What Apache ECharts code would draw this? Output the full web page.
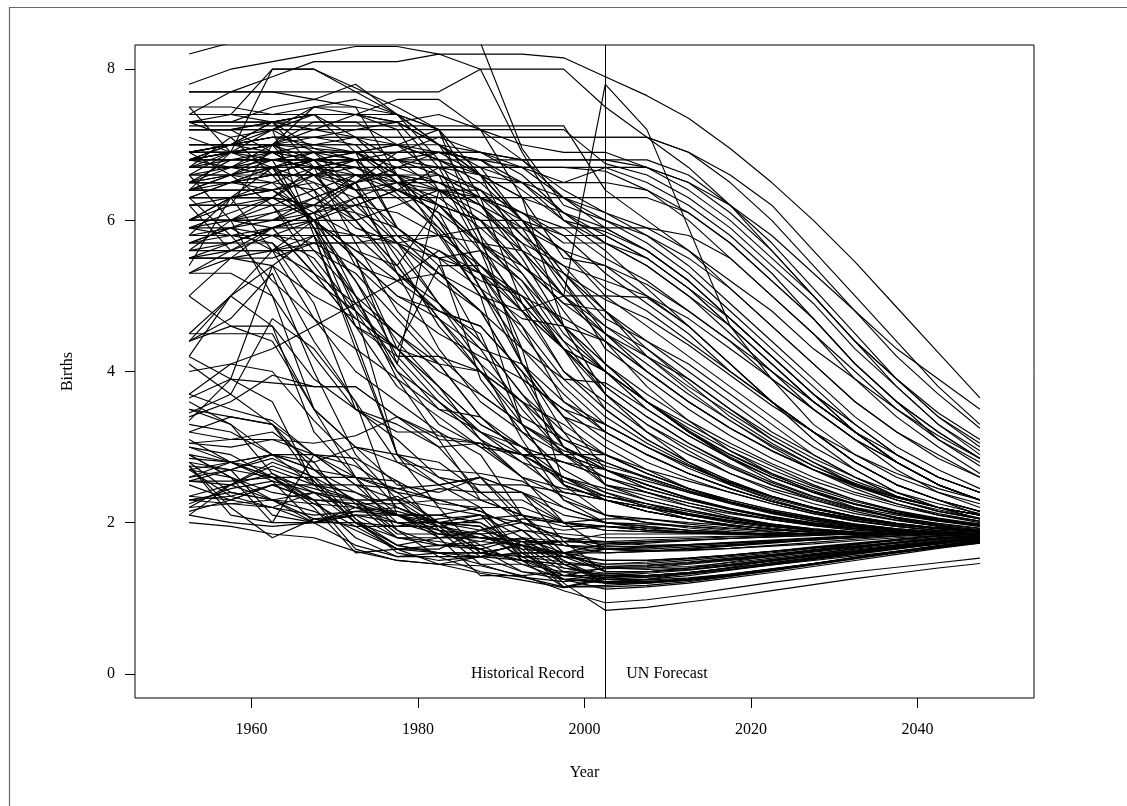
<!DOCTYPE html>
<html><head><meta charset="utf-8">
<script src="https://cdn.jsdelivr.net/npm/echarts@6/dist/echarts.min.js"></script>
<style>html,body{margin:0;padding:0;background:#fff}#c{width:1127px;height:806px}</style>
</head><body><div id="c"></div>
<script>
const years = [1952.5,1957.5,1962.5,1967.5,1972.5,1977.5,1982.5,1987.5,1992.5,1997.5,2002.5,2007.5,2012.5,2017.5,2022.5,2027.5,2032.5,2037.5,2042.5,2047.5];
const xTicks = [1960,1980,2000,2020,2040];
const yTicks = [0,2,4,6,8];
const splitYear = 2002.5;
const leftLabel = 'Historical Record';
const rightLabel = 'UN Forecast';

const highFertility = [
[7.7,7.7,7.9,8.1,8.1,8.1,8.2,8.2,8.2,8.15,7.9,7.65,7.35,6.95,6.5,6.0,5.45,4.85,4.25,3.65],
[8.2,8.35,8.5,8.6,8.6,8.6,8.6,8.35,6.95,6.2,6.0,5.7,5.3,4.8,4.3,3.8,3.3,2.9,2.6,2.4],
[7.8,8.0,8.1,8.2,8.3,8.3,8.2,8.0,6.9,6.0,5.7,5.4,5.0,4.6,4.1,3.6,3.2,2.8,2.5,2.3],
[7.5,6.9,8.0,8.0,7.75,7.5,7.2,6.6,5.6,5.0,5.0,4.98,4.6,4.1,3.6,3.2,2.8,2.5,2.3,2.1],
[6.9,7.0,7.1,7.1,7.1,7.1,7.1,7.1,7.1,7.1,7.1,7.1,6.9,6.6,6.2,5.6,5.0,4.4,3.8,3.3],
[6.8,6.9,7.0,7.1,7.2,7.3,7.4,7.2,7.0,6.9,6.9,6.7,6.4,6.0,5.5,5.0,4.4,3.9,3.4,3.0],
[6.4,6.5,6.6,6.8,6.9,7.0,7.2,7.2,7.2,7.2,6.75,6.6,6.3,5.9,5.4,4.9,4.3,3.8,3.3,2.95],
[6.8,6.8,6.8,6.8,6.8,6.8,6.8,6.8,6.8,6.8,6.8,6.7,6.5,6.1,5.6,5.0,4.4,3.8,3.3,2.9],
[7.25,7.25,7.25,7.25,7.25,7.25,7.25,7.25,7.25,7.25,6.4,6.0,5.6,5.1,4.6,4.1,3.6,3.2,2.9,2.6],
[5.6,5.6,5.9,6.1,6.5,6.9,7.1,7.1,7.1,7.1,7.1,7.1,6.9,6.5,6.0,5.4,4.8,4.2,3.7,3.25],
[6.0,6.0,6.0,6.3,6.5,6.7,6.7,6.7,6.7,6.7,6.7,6.7,6.5,6.2,5.8,5.3,4.8,4.3,3.9,3.5],
[5.8,5.9,6.0,6.2,6.5,6.7,6.9,6.8,6.7,6.7,6.65,6.4,6.0,5.5,5.0,4.5,4.0,3.5,3.1,2.75],
[6.3,6.5,6.7,6.8,6.7,6.7,6.7,6.7,6.7,6.5,6.7,6.5,6.2,5.8,5.3,4.7,4.1,3.6,3.1,2.8],
[5.9,6.1,6.3,6.6,6.8,6.9,6.9,6.9,6.8,6.8,6.8,6.8,6.6,6.2,5.7,5.1,4.5,3.9,3.4,3.05],
[5.5,5.7,5.9,6.1,6.3,6.5,6.5,6.5,6.5,6.5,6.5,6.4,6.1,5.7,5.2,4.7,4.1,3.6,3.2,2.85],
[7.2,7.2,6.9,6.9,6.8,6.8,6.9,6.9,6.8,6.3,5.9,5.6,5.2,4.7,4.2,3.7,3.2,2.8,2.5,2.3],
[6.8,6.9,7.0,7.2,7.4,7.6,7.6,7.2,6.8,6.4,6.1,5.8,5.4,4.9,4.4,3.9,3.4,3.0,2.7,2.45],
[6.3,6.5,6.6,6.6,6.6,6.5,6.4,6.3,6.1,5.9,5.5,5.2,4.8,4.4,3.9,3.5,3.1,2.8,2.5,2.3],
[6.5,6.6,6.8,6.9,6.9,6.9,6.9,6.8,6.4,6.0,5.85,5.6,5.2,4.7,4.2,3.7,3.2,2.8,2.5,2.3],
[6.7,6.8,6.8,6.8,6.8,6.8,6.7,6.4,6.1,5.7,5.7,5.5,5.1,4.6,4.1,3.6,3.2,2.8,2.5,2.3],
[6.7,6.9,7.2,7.4,7.4,7.3,7.0,6.6,6.3,6.1,5.7,5.4,5.0,4.5,4.0,3.5,3.1,2.7,2.4,2.2],
[6.8,6.9,7.0,7.0,7.1,7.1,7.1,6.9,6.6,6.1,5.9,5.6,5.2,4.7,4.2,3.7,3.3,2.9,2.6,2.4],
[6.9,6.9,6.9,6.9,6.9,6.9,6.9,6.8,6.5,6.1,5.8,5.5,5.1,4.7,4.2,3.7,3.3,2.9,2.6,2.4],
[5.7,5.7,5.9,6.0,6.3,6.3,6.3,6.3,6.3,6.3,6.3,6.3,6.1,5.7,5.2,4.7,4.1,3.6,3.2,2.85],
[6.5,6.5,6.6,6.8,6.8,6.4,6.2,6.0,6.0,5.8,5.8,5.5,5.1,4.6,4.1,3.6,3.2,2.8,2.5,2.3],
[5.7,5.9,6.1,6.3,6.5,6.6,6.5,6.3,6.0,5.3,4.7,4.4,4.1,3.7,3.3,2.9,2.6,2.35,2.2,2.05],
[5.5,5.5,5.5,5.7,5.7,5.7,5.8,5.9,5.9,5.9,5.9,5.9,5.8,5.5,5.0,4.5,3.9,3.4,3.0,2.65],
[7.4,7.4,8.0,8.0,7.7,7.4,7.0,6.7,6.5,6.0,5.6,5.1,4.6,4.1,3.6,3.1,2.7,2.4,2.2,2.05],
[7.2,7.2,7.2,7.2,7.2,7.2,7.2,7.2,6.3,4.6,3.7,3.2,2.8,2.5,2.3,2.15,2.05,1.98,1.93,1.9],
[7.2,7.2,7.3,7.3,7.3,7.3,7.0,6.2,5.5,4.6,4.1,3.6,3.2,2.85,2.55,2.35,2.2,2.1,2.02,1.97],
[6.7,6.7,6.7,6.7,6.7,6.4,6.2,6.0,5.4,4.9,4.8,4.4,4.0,3.6,3.2,2.9,2.6,2.35,2.2,2.1],
[6.2,6.2,6.2,6.2,6.2,6.4,6.7,6.7,6.0,5.3,4.8,4.2,3.75,3.35,3.0,2.7,2.45,2.25,2.1,2.0],
[5.7,5.8,5.8,6.0,6.2,6.4,6.4,6.4,5.9,5.1,4.6,4.3,3.9,3.5,3.1,2.8,2.5,2.3,2.15,2.05],
[6.6,6.6,6.6,6.6,6.6,6.6,6.6,6.4,5.8,5.2,4.3,3.9,3.5,3.15,2.85,2.6,2.4,2.25,2.12,2.02],
[6.4,6.6,6.9,7.0,7.0,7.0,6.9,6.6,6.0,5.6,5.0,4.6,4.2,3.8,3.4,3.0,2.7,2.4,2.2,2.1],
[6.5,6.7,7.0,7.3,7.3,7.0,6.6,6.3,6.1,5.8,5.3,4.9,4.5,4.0,3.6,3.2,2.8,2.5,2.3,2.15],
[6.8,7.0,7.3,7.4,7.4,7.4,7.0,6.6,6.0,5.6,5.1,4.8,4.4,4.0,3.6,3.2,2.8,2.5,2.3,2.15],
[6.9,7.0,7.1,7.1,7.1,7.0,6.8,6.6,6.3,5.5,5.4,5.0,4.6,4.1,3.6,3.2,2.8,2.5,2.3,2.15],
[6.4,6.9,7.0,6.95,6.9,6.6,6.4,6.0,5.3,4.6,4.4,4.0,3.6,3.25,2.95,2.7,2.5,2.33,2.2,2.1],
[6.3,6.3,6.3,6.0,5.6,5.4,6.2,5.7,5.2,4.4,4.0,3.6,3.3,3.0,2.75,2.5,2.3,2.15,2.03,1.95],
[7.3,7.3,7.3,7.2,7.1,6.8,6.4,6.1,5.7,5.4,4.8,4.3,3.85,3.4,3.05,2.75,2.5,2.3,2.15,2.05],
[6.0,6.0,6.0,6.0,6.0,6.2,6.4,6.2,5.6,5.0,4.4,3.8,3.35,2.95,2.65,2.4,2.2,2.05,1.95,1.88],
[7.1,6.9,6.9,6.6,6.4,6.4,6.1,5.7,5.4,5.0,4.6,4.2,3.8,3.45,3.1,2.8,2.55,2.35,2.2,2.1],
[6.8,7.0,7.3,7.4,7.4,7.3,6.7,5.7,4.8,4.0,3.6,3.2,2.9,2.65,2.45,2.3,2.17,2.06,1.97,1.9],
[6.7,6.7,6.9,6.9,6.9,6.5,6.2,5.7,5.3,4.5,4.0,3.6,3.2,2.9,2.65,2.45,2.28,2.15,2.05,1.97],
[6.4,6.4,6.4,6.0,5.5,4.3,5.4,5.4,4.8,5.0,7.8,7.2,5.9,4.6,3.9,3.3,2.9,2.6,2.4,2.25],
[7.7,7.7,7.7,7.7,7.7,7.7,7.7,8.0,8.0,8.0,7.5,7.1,6.7,6.2,5.6,5.0,4.4,3.9,3.45,3.1],
[6.6,6.6,6.7,6.8,6.9,7.0,7.0,6.9,6.7,6.3,6.0,5.8,5.5,5.1,4.6,4.1,3.6,3.2,2.85,2.6],
[6.2,6.3,6.5,6.7,6.8,6.8,6.6,6.3,5.8,5.4,5.2,5.0,4.7,4.3,3.9,3.5,3.1,2.8,2.5,2.3],
[5.9,6.0,6.2,6.4,6.6,6.6,6.5,6.2,5.7,5.0,4.5,4.2,3.9,3.5,3.15,2.85,2.6,2.4,2.25,2.12],
[6.9,7.0,7.1,7.0,6.9,6.7,6.5,6.2,5.9,5.6,5.4,5.15,4.8,4.4,4.0,3.6,3.2,2.9,2.6,2.4],
[7.0,7.0,7.0,7.0,7.0,7.0,6.8,6.5,6.0,5.2,4.5,4.0,3.6,3.25,2.95,2.7,2.5,2.33,2.2,2.1],
[6.3,6.3,6.4,6.6,6.7,6.7,6.7,6.6,6.5,6.3,6.1,5.9,5.6,5.2,4.8,4.3,3.9,3.5,3.15,2.85]
];

const lateDecline = [
[5.9,5.9,5.8,5.7,5.4,4.9,4.5,4.2,3.9,3.5,3.1,2.8,2.58,2.4,2.25,2.12,2.02,1.95,1.9,1.87],
[6.7,6.7,6.7,6.9,6.9,6.6,6.0,5.1,4.1,3.4,3.2,2.9,2.65,2.45,2.28,2.15,2.05,1.97,1.92,1.88],
[6.6,6.9,7.0,6.4,5.9,5.7,5.3,4.8,3.9,3.5,3.3,3.0,2.75,2.53,2.35,2.2,2.08,1.98,1.92,1.88],
[7.3,7.3,7.5,7.6,7.5,7.4,7.2,6.3,4.9,4.0,3.5,3.1,2.8,2.55,2.35,2.2,2.07,1.98,1.92,1.88],
[7.4,7.7,7.7,7.6,7.8,7.4,6.8,5.8,5.1,4.3,3.5,3.1,2.8,2.55,2.35,2.2,2.08,1.99,1.93,1.89],
[6.9,7.0,7.2,7.5,7.6,7.4,7.2,5.8,4.1,3.4,3.0,2.7,2.45,2.27,2.13,2.02,1.95,1.9,1.87,1.85],
[7.3,7.4,7.4,7.5,7.4,7.2,6.4,5.3,4.1,3.2,2.5,2.35,2.22,2.12,2.04,1.97,1.92,1.88,1.86,1.85],
[7.2,7.2,7.2,6.9,6.4,5.9,5.4,4.4,3.7,3.0,2.75,2.6,2.42,2.27,2.15,2.05,1.98,1.92,1.88,1.86],
[7.0,7.0,7.0,6.7,6.4,6.5,6.6,5.6,4.3,2.5,2.1,2.0,1.93,1.88,1.85,1.85,1.85,1.85,1.85,1.85],
[5.8,5.8,5.9,5.9,5.8,5.8,5.6,5.3,5.0,4.4,3.7,3.3,2.95,2.65,2.42,2.25,2.12,2.03,1.96,1.91],
[6.8,6.7,6.6,6.6,6.5,5.8,5.3,5.0,4.8,4.3,4.0,3.5,3.15,2.85,2.6,2.4,2.25,2.13,2.04,1.98],
[7.5,7.5,7.4,7.4,7.1,6.6,6.0,5.4,4.9,4.3,3.7,3.3,3.0,2.73,2.5,2.32,2.18,2.07,1.99,1.93],
[7.3,7.3,7.3,6.95,6.8,6.35,5.85,5.0,4.6,3.6,3.3,3.0,2.72,2.5,2.32,2.18,2.07,1.99,1.93,1.89],
[6.5,6.5,6.5,6.4,5.4,5.2,5.3,4.8,4.3,3.9,3.85,3.5,3.15,2.85,2.6,2.4,2.24,2.12,2.03,1.97],
[7.3,7.1,6.6,6.0,5.5,5.0,4.7,4.3,4.1,3.6,3.2,2.9,2.65,2.45,2.28,2.15,2.05,1.97,1.92,1.88],
[6.3,6.3,6.3,6.2,5.5,4.1,6.4,6.0,5.6,4.8,4.1,3.6,3.2,2.87,2.6,2.4,2.24,2.12,2.03,1.97],
[6.2,6.2,6.3,6.2,6.1,5.9,5.5,5.1,4.7,4.6,4.1,3.7,3.35,3.05,2.78,2.55,2.37,2.22,2.1,2.02],
[4.5,5.0,5.4,5.0,4.7,4.3,4.1,4.0,3.6,2.9,2.6,2.4,2.26,2.14,2.04,1.96,1.9,1.87,1.85,1.85],
[6.0,6.3,6.3,6.7,6.8,5.9,5.5,5.6,4.9,4.3,3.8,3.4,3.05,2.77,2.53,2.34,2.19,2.07,1.98,1.92],
[6.0,6.0,6.3,6.0,5.6,5.2,4.8,4.6,4.0,3.4,2.7,2.45,2.3,2.17,2.06,1.98,1.92,1.88,1.86,1.85],
[6.0,6.3,6.7,6.3,6.0,5.3,4.8,4.6,4.0,3.0,2.7,2.5,2.33,2.19,2.08,1.99,1.93,1.89,1.86,1.85],
[6.5,6.5,6.4,6.0,5.5,5.0,4.8,4.5,3.3,2.95,2.8,2.6,2.42,2.27,2.15,2.05,1.97,1.91,1.87,1.85],
[6.5,6.6,6.7,6.7,6.6,6.4,6.1,5.1,4.3,3.7,3.2,2.9,2.65,2.45,2.28,2.14,2.03,1.95,1.89,1.85],
[6.0,6.0,6.1,6.2,6.6,6.6,6.2,5.6,5.2,4.6,4.0,3.6,3.22,2.9,2.63,2.42,2.25,2.12,2.02,1.95],
[5.8,5.8,5.8,5.8,5.8,5.7,5.5,5.3,4.8,4.3,3.8,3.4,3.05,2.75,2.5,2.3,2.15,2.03,1.95,1.89],
[7.2,7.2,7.3,7.4,6.9,5.9,5.5,3.9,3.2,2.9,2.7,2.5,2.32,2.18,2.07,1.98,1.92,1.88,1.86,1.85],
[7.0,7.0,6.9,6.8,6.4,5.7,5.2,4.8,3.9,3.0,2.5,2.4,2.26,2.14,2.04,1.96,1.9,1.87,1.85,1.85],
[6.0,6.2,7.0,7.5,7.5,6.6,5.8,5.0,3.3,2.5,2.3,2.2,2.1,2.02,1.95,1.9,1.87,1.85,1.85,1.85],
[6.0,6.0,6.0,6.1,5.8,5.3,4.9,4.3,3.5,2.9,2.5,2.3,2.17,2.06,1.98,1.92,1.88,1.86,1.85,1.85],
[4.0,4.1,4.3,4.6,4.9,5.2,5.6,5.2,5.0,4.3,4.0,3.6,3.25,2.95,2.7,2.48,2.3,2.16,2.06,1.98],
[5.5,5.5,5.6,5.7,5.7,5.8,5.8,5.7,5.6,5.3,4.95,4.7,4.35,3.95,3.55,3.2,2.9,2.65,2.45,2.3],
[6.9,6.9,6.9,6.9,6.6,6.3,5.9,5.3,4.5,3.8,3.3,3.0,2.75,2.52,2.34,2.2,2.08,1.99,1.93,1.89],
[7.0,7.0,7.1,7.1,7.0,6.5,5.9,5.3,4.6,3.9,3.4,3.05,2.77,2.53,2.34,2.19,2.07,1.98,1.92,1.88],
[6.6,6.7,6.8,6.8,6.7,6.5,6.3,5.9,5.4,4.9,4.5,4.1,3.7,3.35,3.02,2.75,2.52,2.34,2.2,2.1],
[5.6,5.7,5.9,6.1,6.2,6.1,5.8,5.4,5.0,4.7,4.4,4.0,3.6,3.25,2.95,2.7,2.48,2.3,2.17,2.06]
];

const earlyDecline = [
[6.2,5.6,5.6,6.0,4.8,2.9,2.5,2.6,2.0,1.8,1.7,1.73,1.76,1.79,1.82,1.85,1.85,1.85,1.85,1.85],
[5.4,6.3,5.6,4.7,4.3,2.9,2.2,1.6,1.7,1.5,1.2,1.25,1.33,1.41,1.5,1.58,1.66,1.74,1.8,1.84],
[6.4,6.4,6.4,6.1,5.0,3.9,3.1,2.3,2.1,2.0,1.9,1.88,1.86,1.85,1.85,1.85,1.85,1.85,1.85,1.85],
[6.6,6.0,5.0,3.5,2.6,1.9,1.7,1.7,1.8,1.6,1.35,1.35,1.4,1.48,1.56,1.64,1.71,1.78,1.83,1.85],
[6.2,6.2,6.2,5.4,4.7,4.3,3.8,3.1,2.6,2.45,2.35,2.25,2.1,2.0,1.93,1.87,1.85,1.85,1.85,1.85],
[6.9,6.9,6.8,6.7,6.5,5.3,4.3,3.6,3.2,2.7,2.4,2.2,2.05,1.95,1.88,1.85,1.85,1.85,1.85,1.85],
[6.8,6.8,6.8,5.9,4.6,4.3,3.7,3.2,3.0,2.8,2.6,2.4,2.22,2.08,1.98,1.91,1.87,1.85,1.85,1.85],
[6.5,6.5,6.7,5.9,4.9,4.5,4.0,3.7,3.3,2.9,2.7,2.5,2.32,2.18,2.07,1.98,1.92,1.88,1.86,1.85],
[6.9,6.9,6.9,6.6,6.0,5.4,4.7,4.1,3.6,3.1,2.9,2.65,2.45,2.28,2.15,2.05,1.97,1.91,1.87,1.85],
[6.7,6.7,6.7,6.5,6.0,5.4,4.7,4.0,3.4,3.1,2.8,2.58,2.4,2.25,2.12,2.02,1.95,1.9,1.87,1.85],
[6.7,7.1,7.2,5.8,4.3,3.9,3.5,3.4,3.0,2.6,2.3,2.15,2.05,1.97,1.91,1.87,1.85,1.85,1.85,1.85],
[7.4,7.4,7.3,6.7,5.7,4.8,4.2,3.7,3.3,3.0,2.7,2.5,2.32,2.18,2.07,1.98,1.92,1.88,1.86,1.85],
[4.2,5.0,5.6,5.8,5.0,4.0,3.6,3.1,2.8,2.6,2.4,2.25,2.12,2.02,1.95,1.9,1.87,1.85,1.85,1.85],
[5.3,5.3,5.0,4.2,3.5,3.2,3.2,2.9,2.1,1.7,1.6,1.62,1.66,1.7,1.74,1.78,1.82,1.85,1.85,1.85],
[6.3,5.8,5.7,4.9,3.5,3.1,2.6,2.3,2.3,2.0,1.95,1.9,1.87,1.85,1.85,1.85,1.85,1.85,1.85,1.85],
[6.9,7.0,7.0,6.8,6.2,5.7,4.9,4.1,3.1,2.3,2.0,1.92,1.87,1.85,1.85,1.85,1.85,1.85,1.85,1.85],
[6.9,6.6,6.2,5.6,5.0,4.5,4.1,3.4,2.9,2.6,2.45,2.3,2.17,2.06,1.98,1.92,1.88,1.86,1.85,1.85],
[5.7,5.7,5.7,5.2,4.8,4.3,3.8,3.3,3.0,2.5,2.3,2.15,2.05,1.97,1.91,1.87,1.85,1.85,1.85,1.85],
[5.8,6.3,6.4,6.5,6.3,5.5,4.6,4.0,3.3,2.5,2.3,2.2,2.1,2.02,1.95,1.9,1.87,1.85,1.85,1.85],
[5.5,5.6,5.6,5.6,5.3,4.7,4.1,3.4,2.9,2.55,2.35,2.22,2.12,2.03,1.96,1.9,1.87,1.85,1.85,1.85],
[6.8,6.9,6.7,5.9,5.2,4.2,4.2,4.0,3.6,3.3,2.9,2.65,2.45,2.3,2.17,2.07,1.98,1.92,1.88,1.85],
[5.9,5.8,5.2,4.7,4.0,3.6,3.2,2.6,2.4,2.2,2.0,1.95,1.9,1.87,1.85,1.85,1.85,1.85,1.85,1.85],
[6.5,6.8,6.9,6.6,6.1,5.6,4.9,4.4,3.7,3.2,2.9,2.65,2.45,2.3,2.17,2.07,1.98,1.92,1.88,1.85],
[5.7,5.9,5.6,5.3,4.9,4.1,3.5,3.2,2.9,2.8,2.7,2.55,2.4,2.26,2.14,2.04,1.96,1.9,1.87,1.85],
[5.0,5.5,5.4,4.4,3.6,2.8,2.7,2.65,2.55,2.2,2.0,1.95,1.9,1.87,1.85,1.85,1.85,1.85,1.85,1.85],
[4.1,3.7,4.7,4.3,3.6,2.1,1.85,1.85,1.65,1.6,1.6,1.62,1.65,1.69,1.73,1.77,1.81,1.84,1.85,1.85],
[5.0,4.6,4.4,3.5,3.0,2.8,2.5,2.2,2.2,2.0,1.9,1.88,1.86,1.85,1.85,1.85,1.85,1.85,1.85,1.85],
[3.2,3.1,3.1,3.05,3.15,3.4,3.15,3.05,2.9,2.6,2.35,2.25,2.15,2.05,1.97,1.9,1.86,1.85,1.85,1.85],
[2.7,2.8,2.9,2.8,3.0,2.9,2.6,2.5,2.5,2.4,2.3,2.2,2.1,2.02,1.95,1.9,1.86,1.85,1.85,1.85],
[4.2,3.9,3.85,3.8,3.8,3.4,3.1,3.05,2.9,2.9,2.9,2.7,2.55,2.4,2.25,2.12,2.02,1.95,1.9,1.87],
[4.4,4.6,4.6,3.9,3.5,3.3,3.0,3.05,2.6,2.0,1.95,1.93,1.9,1.87,1.85,1.85,1.85,1.85,1.85,1.85],
[5.3,5.5,5.9,5.3,4.6,3.8,3.4,3.0,2.9,2.3,2.1,2.05,1.98,1.93,1.88,1.85,1.85,1.85,1.85,1.85],
[4.5,4.5,4.5,3.5,3.0,2.5,2.4,2.6,2.4,1.75,1.35,1.35,1.38,1.44,1.5,1.57,1.63,1.7,1.76,1.8],
[3.0,2.9,2.6,2.6,2.6,2.4,2.3,2.3,2.1,1.6,1.4,1.4,1.42,1.47,1.53,1.59,1.65,1.71,1.77,1.81],
[5.6,6.0,5.9,5.3,4.6,4.2,3.6,3.2,2.8,2.4,2.3,2.15,2.05,1.97,1.91,1.87,1.85,1.85,1.85,1.85],
[3.35,3.9,5.4,5.8,4.4,2.9,2.8,2.4,2.4,2.1,2.0,1.98,1.95,1.92,1.9,1.88,1.86,1.85,1.85,1.85],
[6.4,6.6,6.5,6.0,5.2,4.4,3.8,3.3,3.0,2.8,2.6,2.45,2.3,2.18,2.08,2.0,1.94,1.9,1.87,1.85],
[5.3,5.6,5.8,5.5,4.8,4.0,3.3,3.0,2.6,2.35,2.1,2.0,1.95,1.9,1.87,1.85,1.85,1.85,1.85,1.85]
];

const lowFertility = [
[3.45,3.7,3.3,2.55,2.0,1.8,1.8,1.9,2.05,2.0,2.05,2.05,2.0,1.96,1.92,1.89,1.87,1.85,1.85,1.85],
[3.65,3.9,3.6,2.5,2.0,1.7,1.6,1.6,1.7,1.55,1.5,1.5,1.53,1.57,1.62,1.67,1.72,1.77,1.82,1.85],
[3.2,3.4,3.3,2.9,2.5,2.0,1.9,1.85,1.9,1.8,1.75,1.7,1.71,1.73,1.75,1.77,1.8,1.82,1.84,1.85],
[3.7,4.1,4.0,3.35,2.8,2.2,1.95,2.05,2.1,1.95,1.95,1.9,1.88,1.86,1.85,1.85,1.85,1.85,1.85,1.85],
[3.4,3.6,3.95,3.8,3.8,3.4,3.0,2.4,2.0,1.9,1.95,1.9,1.88,1.86,1.85,1.85,1.85,1.85,1.85,1.85],
[2.2,2.5,2.8,2.6,2.05,1.7,1.8,1.8,1.78,1.7,1.65,1.65,1.68,1.71,1.74,1.77,1.8,1.83,1.85,1.85],
[2.75,2.7,2.85,2.6,2.3,1.85,1.85,1.8,1.7,1.75,1.85,1.85,1.85,1.85,1.85,1.85,1.85,1.85,1.85,1.85],
[2.15,2.3,2.5,2.3,1.65,1.5,1.45,1.43,1.3,1.35,1.32,1.35,1.4,1.45,1.51,1.57,1.63,1.69,1.74,1.77],
[2.35,2.3,2.5,2.5,2.3,1.9,1.55,1.35,1.28,1.22,1.28,1.3,1.34,1.4,1.47,1.54,1.61,1.68,1.75,1.81],
[2.55,2.7,2.9,2.9,2.85,2.55,1.9,1.45,1.28,1.15,1.27,1.3,1.34,1.4,1.47,1.54,1.61,1.68,1.75,1.81],
[2.75,2.1,2.0,2.0,2.1,1.8,1.75,1.65,1.5,1.4,1.33,1.3,1.33,1.38,1.44,1.5,1.56,1.62,1.68,1.73],
[3.05,3.1,3.2,2.8,2.05,1.6,1.5,1.55,1.6,1.6,1.72,1.75,1.77,1.79,1.81,1.83,1.85,1.85,1.85,1.85],
[2.2,2.25,2.3,2.15,1.9,1.65,1.65,1.9,2.0,1.55,1.65,1.68,1.71,1.74,1.77,1.8,1.83,1.85,1.85,1.85],
[2.75,2.2,1.8,2.05,2.1,2.1,1.8,1.8,1.75,1.4,1.3,1.3,1.34,1.4,1.46,1.53,1.6,1.67,1.73,1.79],
[3.6,3.3,2.65,2.3,2.25,2.25,2.3,2.15,1.9,1.5,1.25,1.22,1.24,1.3,1.37,1.45,1.53,1.61,1.69,1.76],
[2.85,2.8,2.55,2.0,2.0,1.95,2.05,2.1,1.55,1.25,1.3,1.33,1.37,1.43,1.49,1.56,1.62,1.68,1.74,1.8],
[2.8,2.7,2.1,2.0,2.1,2.0,2.0,2.0,1.6,1.25,1.12,1.15,1.2,1.27,1.34,1.42,1.5,1.58,1.66,1.73],
[2.5,2.3,2.2,2.1,2.15,2.2,2.0,1.95,1.5,1.15,1.15,1.17,1.22,1.29,1.36,1.44,1.52,1.6,1.67,1.74],
[2.9,2.6,2.0,2.9,2.6,2.55,2.25,2.2,1.5,1.3,1.3,1.28,1.32,1.38,1.45,1.52,1.59,1.66,1.72,1.78],
[2.7,2.35,2.2,2.0,2.2,2.35,2.0,1.95,1.65,1.15,1.17,1.2,1.24,1.3,1.37,1.45,1.53,1.61,1.68,1.75],
[3.05,3.0,3.1,2.9,2.75,2.4,2.0,1.6,1.5,1.45,1.45,1.48,1.52,1.57,1.62,1.68,1.73,1.78,1.82,1.85],
[2.3,2.25,2.2,2.4,2.3,2.3,1.95,1.55,1.35,1.3,1.25,1.28,1.32,1.38,1.45,1.52,1.59,1.66,1.72,1.78],
[4.4,4.7,5.3,4.0,2.9,2.3,1.8,1.3,1.3,1.1,0.94,0.98,1.05,1.13,1.21,1.28,1.35,1.41,1.47,1.53],
[4.4,5.0,4.6,3.2,2.6,2.1,1.9,1.8,1.7,1.2,0.84,0.88,0.95,1.02,1.1,1.18,1.26,1.33,1.4,1.46],
[2.0,1.95,1.85,1.8,1.62,1.5,1.45,1.33,1.24,1.14,1.25,1.25,1.3,1.37,1.44,1.51,1.58,1.65,1.72,1.78],
[2.35,2.5,2.65,2.4,2.0,1.7,1.6,1.55,1.6,1.6,1.65,1.67,1.7,1.73,1.76,1.79,1.82,1.85,1.85,1.85],
[2.55,2.55,2.6,2.25,1.95,1.65,1.45,1.55,1.75,1.75,1.75,1.77,1.79,1.81,1.83,1.85,1.85,1.85,1.85,1.85],
[2.1,2.5,2.75,2.55,2.0,1.65,1.6,1.45,1.45,1.35,1.39,1.4,1.45,1.5,1.55,1.61,1.67,1.73,1.78,1.82],
[2.3,2.35,2.5,2.3,1.8,1.55,1.55,1.55,1.5,1.45,1.42,1.43,1.47,1.52,1.57,1.63,1.69,1.74,1.79,1.83],
[3.0,2.8,2.6,2.2,1.6,1.65,1.7,1.65,1.8,1.75,1.73,1.75,1.77,1.79,1.81,1.83,1.85,1.85,1.85,1.85],
[2.6,2.8,2.9,2.7,2.25,1.8,1.7,1.75,1.9,1.85,1.8,1.8,1.81,1.82,1.83,1.84,1.85,1.85,1.85,1.85],
[3.1,2.8,2.6,2.45,2.3,2.3,2.2,2.1,2.0,1.8,1.65,1.63,1.64,1.66,1.69,1.72,1.76,1.8,1.83,1.85],
[2.7,2.6,2.4,2.3,2.3,2.1,2.0,2.1,1.8,1.45,1.25,1.24,1.27,1.32,1.39,1.46,1.53,1.61,1.69,1.76],
[2.6,2.7,2.6,2.3,2.25,2.1,2.1,2.0,1.7,1.35,1.2,1.21,1.25,1.31,1.38,1.46,1.54,1.62,1.69,1.76],
[3.5,3.4,3.3,2.7,2.6,2.45,2.5,2.6,2.1,1.6,1.4,1.38,1.4,1.45,1.51,1.57,1.63,1.69,1.75,1.8],
[3.7,3.5,3.35,2.9,2.5,2.3,2.45,2.4,2.4,2.0,1.65,1.62,1.63,1.66,1.7,1.74,1.78,1.82,1.85,1.85],
[3.5,3.3,2.9,2.5,2.5,2.45,2.3,2.15,1.9,1.45,1.2,1.2,1.24,1.3,1.37,1.45,1.53,1.61,1.69,1.76],
[2.1,2.0,1.95,2.0,2.15,2.1,2.1,2.2,1.6,1.3,1.4,1.42,1.46,1.51,1.56,1.62,1.68,1.73,1.78,1.82],
[2.8,2.4,2.3,2.4,2.2,2.1,1.9,1.65,1.35,1.25,1.22,1.22,1.26,1.32,1.39,1.46,1.53,1.61,1.68,1.75],
[2.9,2.6,2.3,2.05,1.95,1.95,1.95,1.85,1.55,1.55,1.35,1.35,1.38,1.43,1.49,1.56,1.62,1.68,1.74,1.79],
[2.3,2.4,2.3,2.0,1.7,1.55,1.6,1.6,1.55,1.48,1.42,1.44,1.48,1.53,1.58,1.64,1.69,1.74,1.79,1.83],
[2.9,2.8,2.7,2.5,2.4,2.2,2.0,1.9,1.75,1.55,1.45,1.46,1.5,1.55,1.6,1.66,1.71,1.76,1.8,1.84],
[2.55,2.5,2.3,2.25,2.2,2.15,2.0,1.7,1.45,1.25,1.2,1.21,1.25,1.31,1.38,1.46,1.54,1.62,1.7,1.77],
[3.3,3.2,2.9,2.7,2.4,2.1,1.95,1.8,1.75,1.7,1.68,1.69,1.71,1.73,1.76,1.79,1.82,1.85,1.85,1.85],
[2.25,2.45,2.55,2.4,2.2,2.0,1.85,1.75,1.7,1.6,1.5,1.5,1.53,1.57,1.62,1.67,1.72,1.77,1.82,1.85]
];

const allLines = highFertility.concat(lateDecline, earlyDecline, lowFertility);
const FONT = '"Liberation Serif","Times New Roman",serif';

const series = allLines.map(vals => ({
  type: 'line',
  data: vals.map((v, i) => [years[i], v]),
  symbol: 'none',
  silent: true,
  animation: false,
  lineStyle: { color: '#000', width: 1.15 }
}));

series.push({
  type: 'line', data: [], silent: true, animation: false,
  markLine: {
    silent: true, symbol: 'none', animation: false,
    label: { show: false },
    lineStyle: { color: '#000', width: 1, type: 'solid' },
    data: [{ xAxis: splitYear }]
  }
});
series.push({
  type: 'scatter', data: [[splitYear, 0]], symbolSize: 0, silent: true, animation: false,
  itemStyle: { opacity: 1 },
  label: { show: true, position: 'left', distance: 21, formatter: leftLabel,
           color: '#000', fontFamily: FONT, fontSize: 16 }
});
series.push({
  type: 'scatter', data: [[splitYear, 0]], symbolSize: 0, silent: true, animation: false,
  itemStyle: { opacity: 1 },
  label: { show: true, position: 'right', distance: 21, formatter: rightLabel,
           color: '#000', fontFamily: FONT, fontSize: 16 }
});

const chart = echarts.init(document.getElementById('c'), null, { renderer: 'canvas' });
chart.setOption({
  animation: false,
  backgroundColor: '#fff',
  graphic: [{
    type: 'rect', silent: true,
    shape: { x: 9.5, y: 7.5, width: 1300, height: 1000 },
    style: { fill: 'none', stroke: '#666', lineWidth: 1.2 }
  }],
  grid: { left: 135, right: 93, top: 45, bottom: 108, show: true,
          borderColor: '#000', borderWidth: 1, backgroundColor: 'transparent' },
  xAxis: {
    type: 'value', min: 1946, max: 2054,
    name: 'Year', nameLocation: 'middle', nameGap: 67,
    nameTextStyle: { fontFamily: FONT, fontSize: 16, color: '#000' },
    axisLine: { show: false, onZero: false },
    splitLine: { show: false },
    axisTick: { show: true, length: 10, customValues: xTicks, lineStyle: { color: '#000', width: 1 } },
    axisLabel: { customValues: xTicks, margin: 24, fontFamily: FONT, fontSize: 16, color: '#000',
                 formatter: v => String(v) }
  },
  yAxis: {
    type: 'value', min: -0.32, max: 8.32,
    name: 'Births', nameLocation: 'middle', nameGap: 59, nameRotate: 90,
    nameTextStyle: { fontFamily: FONT, fontSize: 16, color: '#000' },
    axisLine: { show: false, onZero: false },
    splitLine: { show: false },
    axisTick: { show: true, length: 10, customValues: yTicks, lineStyle: { color: '#000', width: 1 } },
    axisLabel: { customValues: yTicks, margin: 20, fontFamily: FONT, fontSize: 16, color: '#000',
                 formatter: v => String(v) }
  },
  series: series
});
</script>
</body></html>
